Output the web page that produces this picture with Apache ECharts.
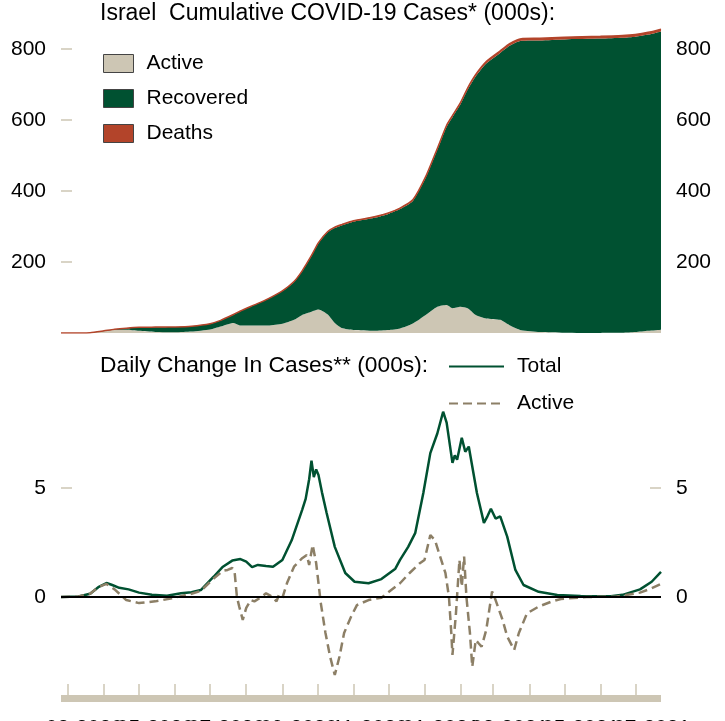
<!DOCTYPE html>
<html>
<head>
<meta charset="utf-8">
<script src="https://cdn.jsdelivr.net/npm/echarts@6/dist/echarts.min.js"></script>
<style>
	html, body { margin: 0; padding: 0; background: #fff; }
	#chart { width: 725px; height: 721px; }
</style>
</head>
<body>
<div id="chart"></div>
<script>
// cumulative cases (000s)
const cumDates = [
	"2020-02-24", "2020-03-10", "2020-03-20", "2020-04-01", "2020-04-10", "2020-04-20", "2020-05-01", "2020-05-15",
	"2020-06-01", "2020-06-15", "2020-07-01", "2020-07-10", "2020-07-21", "2020-07-27", "2020-08-10", "2020-08-20",
	"2020-09-01", "2020-09-11", "2020-09-18", "2020-09-26", "2020-10-02", "2020-10-10", "2020-10-16", "2020-10-22",
	"2020-11-01", "2020-11-19", "2020-12-01", "2020-12-11", "2020-12-22", "2021-01-02", "2021-01-12", "2021-01-20",
	"2021-01-25", "2021-02-01", "2021-02-07", "2021-02-14", "2021-02-23", "2021-03-07", "2021-03-15", "2021-03-25",
	"2021-04-10", "2021-05-01", "2021-06-01", "2021-06-20", "2021-07-01", "2021-07-12", "2021-07-23"
];
const activeCum = [
	0, 0.08, 0.68, 5.9, 9.1, 9.2, 6.1, 3.0,
	2.0, 4.0, 9.8, 18, 28, 21, 21, 21,
	26, 37, 51, 60, 66, 52, 28, 14,
	8.5, 6.5, 8.5, 13, 27, 51, 74, 79,
	70, 74, 70, 51, 41, 37, 22, 8,
	3, 1, 0.3, 0.5, 2.5, 6, 9
];
const recoveredCum = [
	0, 0, 0.02, 0.17, 1.2, 4.2, 9.7, 13.3,
	14.9, 15.0, 16.2, 17.2, 23.6, 40.5, 60.4, 75.3,
	92, 107, 123, 157, 187, 232, 268, 289,
	305, 318, 327, 336, 345, 386, 442, 502,
	538, 571, 615, 672, 718, 752, 787, 815,
	821, 826, 829, 831, 832, 834.5, 840.5
];
const deathsCum = [
	0, 0, 0, 0.03, 0.09, 0.17, 0.23, 0.27,
	0.29, 0.30, 0.32, 0.35, 0.42, 0.47, 0.6, 0.75,
	0.95, 1.1, 1.2, 1.4, 1.6, 1.9, 2.1, 2.3,
	2.6, 2.7, 2.9, 3.0, 3.1, 3.4, 3.8, 4.2,
	4.4, 4.8, 5.1, 5.4, 5.7, 5.95, 6.05, 6.15,
	6.3, 6.36, 6.4, 6.43, 6.43, 6.44, 6.45
];

// daily change (000s)
const totalDates = [
	"2020-02-24", "2020-03-10", "2020-03-20", "2020-03-27", "2020-04-03", "2020-04-08", "2020-04-14", "2020-04-22",
	"2020-05-01", "2020-05-12", "2020-05-25", "2020-06-06", "2020-06-15", "2020-06-23", "2020-07-04", "2020-07-12",
	"2020-07-20", "2020-07-27", "2020-08-01", "2020-08-06", "2020-08-11", "2020-08-18", "2020-08-24", "2020-09-01",
	"2020-09-09", "2020-09-18", "2020-09-21", "2020-09-24", "2020-09-26", "2020-09-28", "2020-09-30", "2020-10-02",
	"2020-10-05", "2020-10-09", "2020-10-16", "2020-10-25", "2020-11-02", "2020-11-14", "2020-11-25", "2020-12-07",
	"2020-12-11", "2020-12-18", "2020-12-24", "2020-12-31", "2021-01-06", "2021-01-12", "2021-01-17", "2021-01-20",
	"2021-01-25", "2021-01-27", "2021-01-29", "2021-02-02", "2021-02-05", "2021-02-08", "2021-02-15", "2021-02-21",
	"2021-02-24", "2021-02-27", "2021-03-03", "2021-03-07", "2021-03-13", "2021-03-20", "2021-03-27", "2021-04-09",
	"2021-04-25", "2021-05-15", "2021-06-10", "2021-06-20", "2021-07-05", "2021-07-15", "2021-07-23"
];
const totalDaily = [
	0, 0.02, 0.15, 0.45, 0.64, 0.55, 0.42, 0.35,
	0.2, 0.1, 0.06, 0.17, 0.22, 0.32, 0.93, 1.39,
	1.67, 1.74, 1.62, 1.37, 1.47, 1.42, 1.39, 1.7,
	2.6, 4.0, 4.5, 5.4, 6.25, 5.5, 5.85, 5.6,
	4.8, 3.85, 2.3, 1.1, 0.7, 0.63, 0.82, 1.3,
	1.7, 2.3, 2.93, 4.77, 6.6, 7.5, 8.5, 8.0,
	6.15, 6.5, 6.3, 7.3, 6.66, 6.9, 4.77, 3.4,
	3.7, 4.05, 3.6, 3.7, 2.77, 1.24, 0.55, 0.24,
	0.09, 0.05, 0.03, 0.1, 0.35, 0.7, 1.15
];
const activeDates = [
	"2020-02-24", "2020-03-10", "2020-03-20", "2020-03-27", "2020-04-03", "2020-04-10", "2020-04-20", "2020-05-01",
	"2020-05-15", "2020-05-30", "2020-06-15", "2020-06-23", "2020-07-04", "2020-07-12", "2020-07-16", "2020-07-20",
	"2020-07-22", "2020-07-24", "2020-07-26", "2020-07-29", "2020-08-01", "2020-08-05", "2020-08-08", "2020-08-14",
	"2020-08-18", "2020-08-22", "2020-08-27", "2020-08-29", "2020-09-01", "2020-09-05", "2020-09-11", "2020-09-18",
	"2020-09-22", "2020-09-24", "2020-09-27", "2020-09-30", "2020-10-04", "2020-10-08", "2020-10-12", "2020-10-16",
	"2020-10-20", "2020-10-24", "2020-10-30", "2020-11-04", "2020-11-14", "2020-11-25", "2020-12-11", "2020-12-19",
	"2020-12-28", "2021-01-01", "2021-01-06", "2021-01-10", "2021-01-14", "2021-01-19", "2021-01-22", "2021-01-24",
	"2021-01-25", "2021-01-28", "2021-01-31", "2021-02-02", "2021-02-04", "2021-02-06", "2021-02-09", "2021-02-11",
	"2021-02-14", "2021-02-16", "2021-02-19", "2021-02-23", "2021-02-28", "2021-03-03", "2021-03-09", "2021-03-13",
	"2021-03-19", "2021-03-23", "2021-03-30", "2021-04-09", "2021-04-20", "2021-04-28", "2021-05-20", "2021-06-15",
	"2021-07-05", "2021-07-15", "2021-07-23"
];
const activeDaily = [
	0, 0.02, 0.15, 0.45, 0.6, 0.35, -0.14, -0.28,
	-0.2, -0.05, 0.15, 0.28, 0.85, 1.2, 1.24, 1.33,
	1.16, 0.0, -0.44, -1.05, -0.5, -0.14, -0.2, 0.0,
	0.17, 0.05, -0.2, 0.09, -0.05, 0.64, 1.39, 1.78,
	1.93, 1.47, 2.39, 1.56, -0.28, -1.65, -2.74, -3.58,
	-2.74, -1.65, -0.9, -0.37, -0.14, -0.03, 0.63, 1.09,
	1.55, 1.7, 2.84, 2.6, 1.93, 1.09, 0.0, -1.65,
	-2.66, -0.75, 1.7, 0.47, 1.86, 0.0, -1.65, -3.2,
	-1.97, -2.1, -2.28, -1.51, 0.25, -0.14, -1.05, -1.81,
	-2.43, -1.65, -0.75, -0.44, -0.21, -0.09, 0.0, 0.02,
	0.2, 0.4, 0.6
];

// month ticks and labels on the bottom axis (labels split in two sets so none get dropped)
const tickMonths = [
	"2020-03-01", "2020-04-01", "2020-05-01", "2020-06-01", "2020-07-01", "2020-08-01", "2020-09-01", "2020-10-01",
	"2020-11-01", "2020-12-01", "2021-01-01", "2021-02-01", "2021-03-01", "2021-04-01", "2021-05-01", "2021-06-01",
	"2021-07-01"
];
const labelMonthsA = ["2020-03-15", "2020-07-15", "2020-11-15", "2021-03-15", "2021-07-15"];
const labelMonthsB = ["2020-05-15", "2020-09-15", "2021-01-15", "2021-05-15"];

const beige = "#cdc6b4";
const green = "#005131";
const rust = "#b3442a";
const taupe = "#8c7f66";
const font = "Liberation Sans, Arial, sans-serif";

const tsOf = s => {
	const p = s.split("-").map(Number);
	return new Date(p[0], p[1] - 1, p[2]).getTime();
};
const pairs = (dates, vals) => dates.map((d, i) => [tsOf(d), vals[i]]);
const monthLabel = v => {
	const d = new Date(v);
	return String(d.getMonth() + 1).padStart(2, "0") + "-" + d.getFullYear();
};

const xMin = tsOf("2020-02-24");
const xMax = tsOf("2021-07-23");

const yLabel = { fontSize: 21, color: "#000", margin: 15, fontFamily: font };
const yTick = { show: true, inside: true, length: 11, lineStyle: { color: beige, width: 1.5 } };
const xLabel = { fontSize: 21, color: "#000", margin: 20, showMinLabel: true, showMaxLabel: true, hideOverlap: false, formatter: monthLabel };

const option = {
	animation: false,
	textStyle: { fontFamily: font },
	title: [
		{ text: "Israel  Cumulative COVID-19 Cases* (000s):", left: 100, top: 2.5, padding: 0, textStyle: { fontSize: 23, fontWeight: "normal", color: "#000" } },
		{ text: "Daily Change In Cases** (000s):", left: 100, top: 354, padding: 0, textStyle: { fontSize: 22.8, fontWeight: "normal", color: "#000" } }
	],
	legend: [
		{
			data: ["Active", "Recovered", "Deaths"],
			orient: "vertical",
			left: 103,
			top: 53,
			padding: 0,
			icon: "rect",
			itemWidth: 30,
			itemHeight: 18,
			itemGap: 14,
			itemStyle: { borderColor: "#444", borderWidth: 1 },
			textStyle: { fontSize: 21, color: "#000", padding: [0, 0, 0, 8] }
		},
		{
			data: ["Total", "ActiveDaily"],
			orient: "vertical",
			left: 448,
			top: 356,
			padding: 0,
			itemWidth: 55,
			itemHeight: 14,
			itemGap: 16,
			itemStyle: { opacity: 0 },
			formatter: name => (name === "ActiveDaily" ? "Active" : name),
			textStyle: { fontSize: 21, color: "#000", padding: [0, 0, 0, 8] }
		}
	],
	grid: [
		{ left: 61, right: 64, top: 20.6, bottom: 388, outerBoundsMode: "none", containLabel: false },
		{ left: 61, right: 64, top: 379, bottom: 15, outerBoundsMode: "none", containLabel: false }
	],
	xAxis: [
		// time axis up top so the areas stack on y
		{ type: "time", gridIndex: 0, min: xMin, max: xMax, show: false },
		{
			type: "value",
			gridIndex: 1,
			position: "bottom",
			min: xMin,
			max: xMax,
			offset: -8,
			axisLine: { show: true, onZero: false, lineStyle: { color: beige, width: 7, cap: "butt" } },
			axisTick: { show: true, inside: true, length: 14, lineStyle: { color: beige, width: 1.5 }, customValues: tickMonths.map(tsOf) },
			axisLabel: { ...xLabel, customValues: labelMonthsA.map(tsOf) },
			splitLine: { show: false }
		},
		{
			type: "value",
			gridIndex: 1,
			position: "bottom",
			min: xMin,
			max: xMax,
			offset: -8,
			axisLine: { show: false, onZero: false },
			axisTick: { show: false },
			axisLabel: { ...xLabel, customValues: labelMonthsB.map(tsOf) },
			splitLine: { show: false }
		}
	],
	yAxis: [
		{
			type: "value", gridIndex: 0, min: 0, max: 880, position: "left",
			axisLine: { show: false }, splitLine: { show: false },
			axisTick: { ...yTick, customValues: [200, 400, 600, 800] },
			axisLabel: { ...yLabel, customValues: [200, 400, 600, 800] }
		},
		{
			type: "value", gridIndex: 0, min: 0, max: 880, position: "right",
			axisLine: { show: false }, splitLine: { show: false },
			axisTick: { ...yTick, customValues: [200, 400, 600, 800] },
			axisLabel: { ...yLabel, customValues: [200, 400, 600, 800] }
		},
		{
			type: "value", gridIndex: 1, min: -5, max: 10, position: "left",
			axisLine: { show: false }, splitLine: { show: false },
			axisTick: { ...yTick, customValues: [0, 5] },
			axisLabel: { ...yLabel, customValues: [0, 5] }
		},
		{
			type: "value", gridIndex: 1, min: -5, max: 10, position: "right",
			axisLine: { show: false }, splitLine: { show: false },
			axisTick: { ...yTick, customValues: [0, 5] },
			axisLabel: { ...yLabel, customValues: [0, 5] }
		}
	],
	series: [
		{
			name: "Active",
			type: "line",
			stack: "cum",
			xAxisIndex: 0,
			yAxisIndex: 0,
			symbol: "none",
			smooth: 0.2,
			color: beige,
			lineStyle: { width: 0 },
			areaStyle: { color: beige, opacity: 1 },
			data: pairs(cumDates, activeCum)
		},
		{
			name: "Recovered",
			type: "line",
			stack: "cum",
			xAxisIndex: 0,
			yAxisIndex: 0,
			symbol: "none",
			smooth: 0.2,
			color: green,
			lineStyle: { width: 0 },
			areaStyle: { color: green, opacity: 1 },
			data: pairs(cumDates, recoveredCum)
		},
		{
			name: "Deaths",
			type: "line",
			stack: "cum",
			xAxisIndex: 0,
			yAxisIndex: 0,
			symbol: "none",
			smooth: 0.2,
			color: rust,
			lineStyle: { width: 1.5, color: rust },
			areaStyle: { color: rust, opacity: 1 },
			data: pairs(cumDates, deathsCum)
		},
		{
			name: "Total",
			type: "line",
			xAxisIndex: 1,
			yAxisIndex: 2,
			symbol: "none",
			color: green,
			lineStyle: { width: 2.5, color: green },
			data: pairs(totalDates, totalDaily),
			markLine: {
				silent: true,
				symbol: "none",
				label: { show: false },
				lineStyle: { color: "#000", width: 1.8, type: "solid" },
				data: [{ yAxis: 0 }]
			}
		},
		{
			name: "ActiveDaily",
			type: "line",
			xAxisIndex: 1,
			yAxisIndex: 2,
			symbol: "none",
			color: taupe,
			lineStyle: { width: 2.5, color: taupe, type: [9, 5] },
			data: pairs(activeDates, activeDaily)
		}
	]
};

const myChart = echarts.init(document.getElementById("chart"), null, { renderer: "canvas" });
myChart.setOption(option);
</script>
</body>
</html>
